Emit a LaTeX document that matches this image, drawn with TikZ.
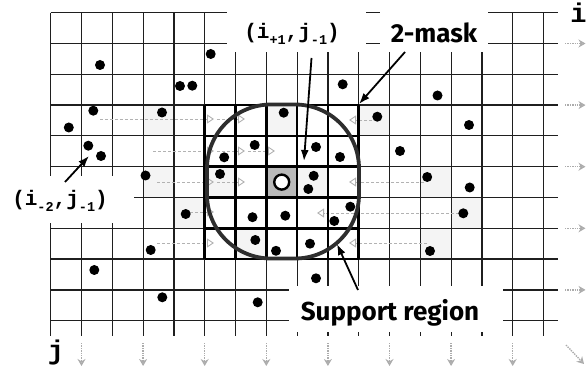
\documentclass[tikz,border=0pt]{standalone}
\usepackage{fontspec}
\setmainfont{Fira Sans}
\newfontfamily\monof{Liberation Mono}
\usetikzlibrary{arrows.meta}
\newcommand\lsub[1]{\raisebox{-0.28em}{\fontsize{13.5}{13.5}\selectfont #1}}
\begin{document}
\begin{tikzpicture}[x=1pt,y=-1pt,
  gridline/.style={line width=1.2pt, black!88},
  maskline/.style={line width=2.7pt, black},
  dot/.style={circle, fill=black, inner sep=0pt, minimum size=10pt},
  speck/.style={fill=gray!9, draw=none},
  garrow/.style={gray!60, line width=0.7pt, densely dashed, -{Triangle[open, length=7pt, width=9pt, line width=0.9pt]}},
  sidearrow/.style={gray!65, line width=1.4pt, densely dotted, -{Stealth[length=7pt, width=8pt, fill=gray!35]}},
  labarrow/.style={black, line width=1.8pt, -{Latex[length=11pt, width=8pt]}},
  whitebox/.style={fill=white, draw=none},
  monolab/.style={font=\monof\bfseries\fontsize{21}{21}\selectfont, inner sep=0pt, anchor=base},
  sanslab/.style={font=\bfseries\fontsize{26}{26}\selectfont, inner sep=0pt, anchor=base},
  axlab/.style={font=\monof\bfseries\fontsize{27}{27}\selectfont, inner sep=0pt, anchor=base}
]
\useasboundingbox (0,0) rectangle (586,371);

% speckled cells
\foreach \c/\r in {3/3,7/3,10/3,3/5,5/5,8/5,12/5,4/6,13/6,6/7,12/7}
  \fill[speck] ({50.7+30.8*\c},{12.7+30.8*\r}) rectangle ++(30.8,30.8);
% centre cell
\fill[gray!55] (266.3,166.7) rectangle ++(30.8,30.8);

% grid
\foreach \c in {0,...,16}
  \draw[gridline] ({50.7+30.8*\c},12.7) -- ({50.7+30.8*\c},336);
\foreach \r in {0,...,10}
  \draw[gridline] (50.7,{12.7+30.8*\r}) -- (558,{12.7+30.8*\r});

% label backgrounds
\fill[whitebox] (227,0) rectangle (366,52);
\fill[whitebox] (380,0) rectangle (488,52);
\fill[whitebox] (0,176) rectangle (134,223);
\fill[whitebox] (289,286) rectangle (503,332);

% gray guide arrows
\foreach \n/\xa/\xb/\yy in {1/100/214/119, 2/217/245/119, 3/153/214/151, 4/217/245/151,
   5/248/275/151, 6/157/214/182, 7/217/245/182, 8/190/214/212, 9/157/214/243,
   10/372/349/120, 11/424/349/182, 12/459/317/213, 13/427/349/243}{
  \coordinate (gs\n) at (\xa,\yy);
  \coordinate (ge\n) at (\xb,\yy);
  \draw[garrow] (gs\n) -- (ge\n);
}

% 2-mask
\foreach \k in {0,...,5}{
  \draw[maskline] ({204.7+30.8*\k},105.1) -- ++(0,154);
  \draw[maskline] (204.7,{105.1+30.8*\k}) -- ++(154,0);
}
\coordinate (maskcorner) at (359,104);

% support region
\node[draw=black!82, line width=3.8pt, rounded corners=64pt, minimum width=152pt,
      minimum height=154pt, inner sep=0pt] (support) at (283,181.5) {};

% centre sample
\node[circle, draw=black, line width=2.4pt, fill=white, inner sep=0pt, minimum size=15pt] (centre) at (281.7,182.1) {};

% data points
\foreach \n/\px/\py in {1/210.7/54, 2/100/65, 3/180/86, 4/192.3/85.7, 5/342.7/84.3, 6/437.5/95.5,
  7/93.3/110.7, 8/162/112.5, 9/68.8/127.5, 10/283.7/112.7, 11/377.3/116.7, 12/469/125,
  13/88.3/145.7, 14/101/156, 15/254.7/145, 16/224.2/157.3, 17/316/147, 18/340/157,
  19/400/151, 20/145.5/175.5, 21/220/174, 22/313.7/175.8, 23/308.3/189, 24/427.2/177,
  25/469.7/187.5, 26/185.7/214, 27/252.5/217.2, 28/285.3/215.7, 29/350.3/206.7,
  30/334.3/221, 31/463.3/213.3, 32/150.7/250, 33/255.3/240, 34/276/250.8, 35/310/243.7,
  36/430/251, 37/94.3/270, 38/316/278.3, 39/162.3/297.3, 40/257.7/302.3}
  \node[dot] (d\n) at (\px,\py) {};

% labels
\node[monolab] (lab1) at (292,39) {(i\lsub{+1},j\lsub{-1})};
\node[sanslab] (lab2) at (434,43) {2-mask};
\node[monolab] (lab3) at (60,206) {(i\lsub{-2},j\lsub{-1})};
\node[sanslab] (lab4) at (390,320) {Support region};
\node[axlab] (ilab) at (578.5,23) {i};
\node[axlab] (jlab) at (56,359) {j};

% label arrows
\coordinate (a1s) at (311.5,58);  \coordinate (a1e) at (304,161);
\coordinate (a3s) at (65,182);    \coordinate (a3e) at (89,156);
\coordinate (a2s) at (405,52);
\coordinate (a4s) at (358,290);   \coordinate (a4e) at (337,244);
\draw[labarrow] (a1s) -- (a1e);
\draw[labarrow] (a2s) -- (maskcorner);
\draw[labarrow] (a3s) -- (a3e);
\draw[labarrow] (a4s) -- (a4e);

% axis direction arrows
\foreach \n/\yy in {1/43.5, 2/105.1, 3/166.7, 4/228.3, 5/289.9}{
  \coordinate (rs\n) at (565,\yy); \coordinate (re\n) at (585.5,\yy);
  \draw[sidearrow] (rs\n) -- (re\n);
}
\foreach \n/\xx in {1/81.5, 2/143.1, 3/204.7, 4/266.3, 5/327.9, 6/389.5, 7/451.1, 8/512.7}{
  \coordinate (bs\n) at (\xx,343); \coordinate (be\n) at (\xx,366);
  \draw[sidearrow] (bs\n) -- (be\n);
}
\coordinate (ds) at (566,345); \coordinate (de) at (584,364);
\draw[sidearrow] (ds) -- (de);
\end{tikzpicture}
\end{document}
